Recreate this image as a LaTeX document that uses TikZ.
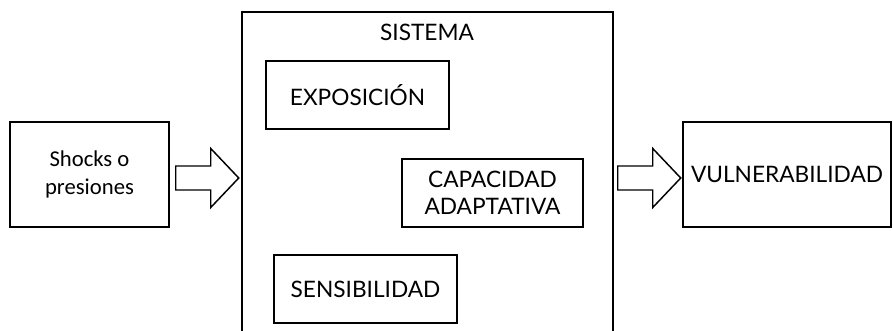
\documentclass[tikz,border=0pt]{standalone}
\usepackage{fontspec}
\setmainfont{Lato}
\newfontfamily\shockfont{Carlito}
\usepackage{tikz}
\usetikzlibrary{calc,positioning}
\tikzstyle{box}   =[rectangle, draw, line width=1.1pt, inner sep=2pt,
                    align=center, font=\fontsize{17}{20.5}\selectfont]
\tikzstyle{title} =[inner sep=1pt, fill=none, draw=none,
                    font=\fontsize{17}{20.5}\selectfont]
\tikzstyle{hollow}=[draw, line width=1.1pt, line join=miter, fill=white]
\newcommand{\blockarrow}[1]{%
  \draw[hollow] (#1) ++(0,-12) -- ++(35,0) -- ++(0,-17.5) -- ++(28,29.5)
    -- ++(-28,29.5) -- ++(0,-17.5) -- ++(-35,0) -- cycle;}

\begin{document}
\begin{tikzpicture}[x=0.75pt, y=-0.75pt]
    \useasboundingbox (0,0) rectangle (893,331);
    % outer system frame, bottom edge lies below the page
    \node (sistema) [box, minimum width=278.25pt, minimum height=249.75pt]
        at (427.5,178.5) {};
    \node (sistitle) [title] at (427,32) {SISTEMA};
    \node (expo) [box, minimum width=137.25pt, minimum height=51pt]
        at (357.5,95) {EXPOSICIÓN};
    \node (capac) [box, minimum width=135.75pt, minimum height=51pt]
        at (492.5,193) {CAPACIDAD\\ADAPTATIVA};
    \node (sensi) [box, minimum width=137.25pt, minimum height=51pt]
        at (365.5,289) {SENSIBILIDAD};
    % input and output
    \node (shocks) [box, minimum width=119.25pt, minimum height=78.75pt,
        font=\shockfont\fontsize{17}{20.5}\selectfont]
        at (89.5,174.5) {Shocks o\\presiones};
    \node (vuln) [box, minimum width=156pt, minimum height=78.75pt]
        at (787,174.5) {VULNERABILIDAD};
    \coordinate (in)  at ($(shocks.east)+(6,3.5)$);
    \coordinate (out) at ($(sistema.east |- vuln.west)+(4,3.5)$);
    \blockarrow{in}
    \blockarrow{out}
\end{tikzpicture}
\end{document}
